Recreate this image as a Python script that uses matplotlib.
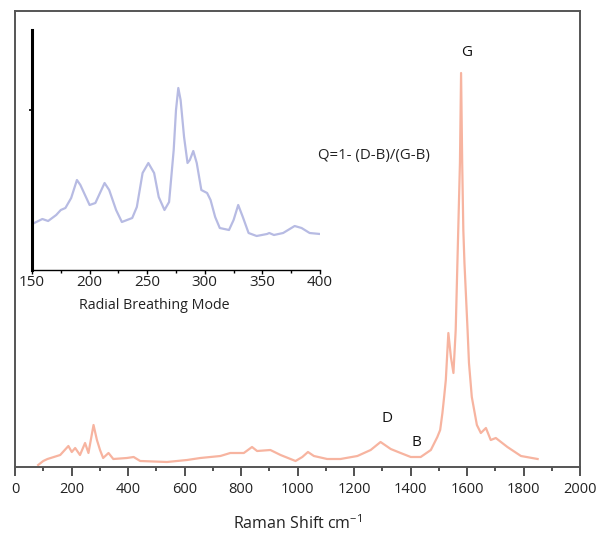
import matplotlib
matplotlib.use("Agg")
import matplotlib.pyplot as plt
from matplotlib.ticker import MultipleLocator

plt.rcParams['font.family'] = ['Open Sans', 'DejaVu Sans']
plt.rcParams['mathtext.fontset'] = 'custom'
plt.rcParams['mathtext.rm'] = 'Open Sans'

# full Raman spectrum (arbitrary intensity units)
shift = [82, 100, 115, 160, 189, 201, 213, 230, 248, 260, 278, 290, 301, 312, 331,
         348, 396, 420, 443, 538, 609, 656, 727, 762, 810, 839, 857, 904, 940, 993,
         1017, 1037, 1058, 1105, 1152, 1212, 1259, 1294, 1330, 1365, 1401, 1436, 1472,
         1495, 1505, 1513, 1519, 1525, 1534, 1543, 1552, 1560, 1569, 1575, 1579, 1583,
         1587, 1591, 1602, 1607, 1617, 1635, 1649, 1667, 1684, 1702, 1743, 1791, 1850]
intensity = [2, 6, 8, 12, 21, 15, 19, 12, 24, 14, 42, 27, 17, 9, 14,
             8, 9, 10, 6, 5, 7, 9, 11, 14, 14, 20, 16, 17, 12, 6,
             10, 15, 11, 8, 8, 11, 17, 25, 18, 14, 10, 10, 17,
             30, 37, 54, 70, 87, 134, 110, 94, 137, 237, 304, 394, 304,
             237, 204, 137, 104, 70, 42, 34, 39, 27, 29, 20, 11, 8]

# radial breathing mode region (inset)
rbm_shift = [152, 159, 164, 171, 175, 179, 184, 189, 192, 200, 205, 213, 217, 223,
             228, 237, 241, 246, 251, 256, 260, 265, 269, 273, 275, 277, 279, 282,
             285, 287, 290, 293, 297, 302, 305, 309, 313, 321, 325, 329, 333, 338,
             345, 354, 356, 360, 368, 378, 384, 391, 400]
rbm_intensity = [47, 51, 49, 55, 60, 62, 72, 90, 85, 65, 67, 87, 80, 60,
                 48, 52, 63, 97, 107, 97, 73, 60, 68, 120, 160, 182, 170, 133,
                 107, 110, 119, 107, 80, 77, 70, 53, 42, 40, 50, 65, 53, 37,
                 34, 36, 37, 35, 37, 44, 42, 37, 36]

fig = plt.figure(figsize=(5.97, 5.35), dpi=100)

ax = fig.add_axes([15 / 597, 68 / 535, 565 / 597, 456 / 535])
ax.plot(shift, intensity, color='#f7b4a0', lw=1.6)
ax.set_xlim(0, 2000)
ax.set_ylim(0, 456)
ax.xaxis.set_major_locator(MultipleLocator(200))
ax.xaxis.set_minor_locator(MultipleLocator(100))
ax.set_yticks([])
ax.tick_params(axis='x', which='major', direction='out', length=6.5, width=1.2,
               color='#333333', labelsize=10.5, labelcolor='#222222', pad=4)
ax.tick_params(axis='x', which='minor', direction='out', length=3, width=1.2, color='#333333')
for s in ax.spines.values():
    s.set_color('#555555')
    s.set_linewidth(1.4)
ax.set_xlabel('Raman Shift cm$^{-1}$', fontsize=11.5, color='#222222', labelpad=13)

ax.text(1599, 414, 'G', fontsize=11, ha='center', va='center', color='#111111')
ax.text(1317, 48, 'D', fontsize=11, ha='center', va='center', color='#111111')
ax.text(1420, 25, 'B', fontsize=11, ha='center', va='center', color='#111111')
ax.text(1073, 311, 'Q=1- (D-B)/(G-B)', fontsize=10.8, ha='left', va='center', color='#222222')

# inset
ins = fig.add_axes([32 / 597, 265 / 535, 288 / 597, 240 / 535])
ins.plot(rbm_shift, rbm_intensity, color='#b7bbe3', lw=1.6)
ins.set_xlim(150, 400)
ins.set_ylim(0, 240)
ins.xaxis.set_major_locator(MultipleLocator(50))
ins.xaxis.set_minor_locator(MultipleLocator(25))
ins.set_yticks([160])
ins.set_yticklabels([])
ins.patch.set_alpha(0)
ins.spines['top'].set_visible(False)
ins.spines['right'].set_visible(False)
ins.spines['left'].set_linewidth(2.2)
ins.spines['bottom'].set_linewidth(1.0)
ins.tick_params(axis='x', which='major', direction='out', length=3, width=1,
                labelsize=11, labelcolor='#222222', pad=0.5)
ins.tick_params(axis='x', which='minor', direction='out', length=2, width=1)
ins.tick_params(axis='y', direction='out', length=2, width=1.2)
ins.set_xlabel('Radial Breathing Mode', fontsize=10.3, color='#222222')
ins.xaxis.set_label_coords(0.425, -0.115)

fig.savefig('out.png', dpi=100)
